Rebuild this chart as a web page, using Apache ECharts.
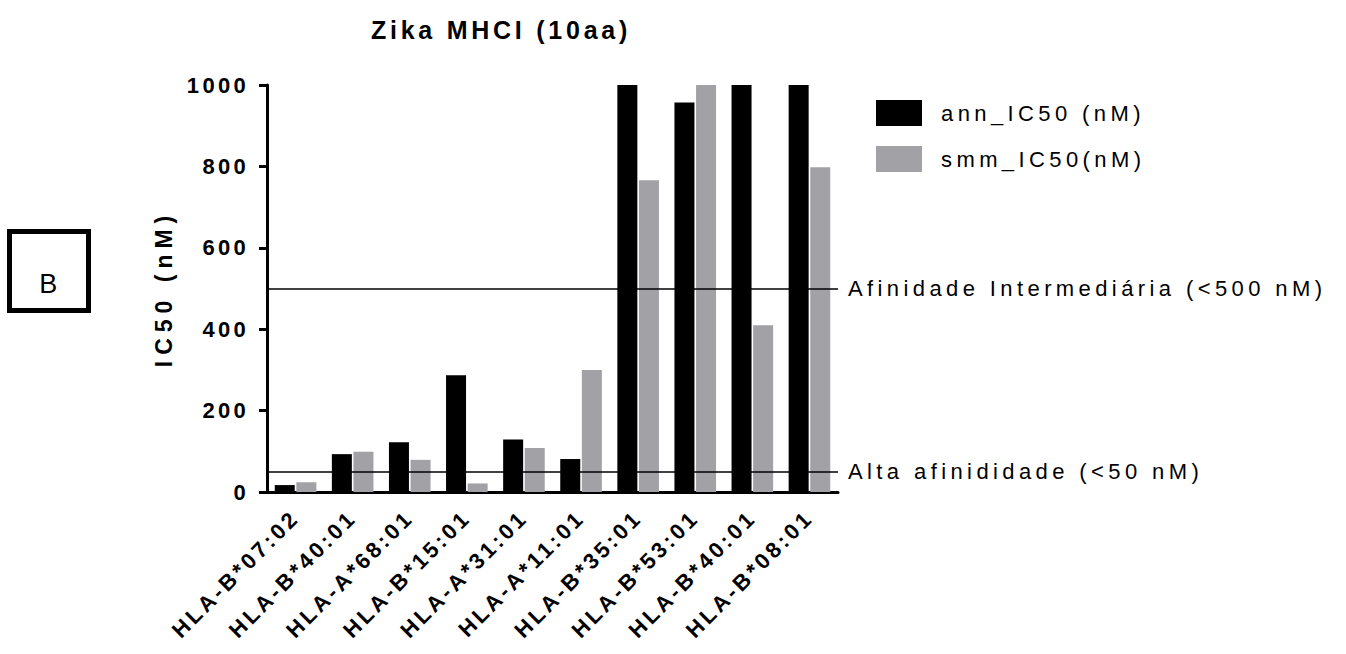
<!DOCTYPE html>
<html>
<head>
<meta charset="utf-8">
<script src="https://cdn.jsdelivr.net/npm/echarts@6/dist/echarts.min.js"></script>
<style>
html,body{margin:0;padding:0;background:#fff;}
#chart{width:1346px;height:654px;}
#chart text{letter-spacing:0.2em;}
#chart text[style*="bold"]{letter-spacing:0.15em;}
</style>
</head>
<body>
<div id="chart"></div>
<script>
const categories = ['HLA-B*07:02','HLA-B*40:01','HLA-A*68:01','HLA-B*15:01','HLA-A*31:01','HLA-A*11:01','HLA-B*35:01','HLA-B*53:01','HLA-B*40:01','HLA-B*08:01'];
const annValues = [17, 93, 122, 287, 129, 81, 1000, 957, 1000, 1000];
const smmValues = [24, 99, 79, 21, 108, 300, 766, 1000, 410, 798];
const seriesNames = ['ann_IC50 (nM)', 'smm_IC50(nM)'];
const yTicks = [0, 200, 400, 600, 800, 1000];
const yAxisTitle = 'IC50 (nM)';
const thresholds = [
  {value: 500, label: 'Afinidade Intermediária (<500 nM)'},
  {value: 50, label: 'Alta afinididade (<50 nM)'}
];

const FONT = '"Liberation Sans", Arial, sans-serif';
const chart = echarts.init(document.getElementById('chart'), null, {renderer: 'svg'});
chart.setOption({
  animation: false,
  backgroundColor: '#fff',
  title: {
    text: 'Zika MHCI (10aa)',
    left: 496, top: 12, textAlign: 'center',
    textStyle: {fontFamily: FONT, fontWeight: 'bold', fontSize: 25, color: '#000'}
  },
  legend: {
    orient: 'vertical', left: 876, top: 100, padding: 0,
    itemWidth: 46, itemHeight: 26, itemGap: 20,
    icon: 'rect',
    data: seriesNames,
    textStyle: {fontFamily: FONT, fontSize: 22, color: '#000', padding: [0, 0, 0, 14]}
  },
  grid: {left: 267, right: 508, top: 85, bottom: 162, containLabel: false},
  xAxis: {
    type: 'category', data: categories,
    axisLine: {lineStyle: {color: '#000', width: 3}},
    axisTick: {alignWithLabel: true, length: 8, lineStyle: {color: '#000', width: 3}},
    axisLabel: {rotate: 45, margin: 22, interval: 0, fontFamily: FONT, fontWeight: 'bold', fontSize: 22, color: '#000'}
  },
  yAxis: {
    type: 'value', min: 0, max: 1000, interval: 200,
    name: yAxisTitle, nameLocation: 'middle', nameGap: 92,
    nameTextStyle: {fontFamily: FONT, fontWeight: 'bold', fontSize: 23, color: '#000'},
    axisLine: {show: true, lineStyle: {color: '#000', width: 3}},
    axisTick: {show: true, length: 8, lineStyle: {color: '#000', width: 3}},
    splitLine: {show: false},
    axisLabel: {margin: 18, fontFamily: FONT, fontWeight: 'bold', fontSize: 22, color: '#000',
      customValues: yTicks, formatter: v => String(v)}
  },
  series: [
    {
      name: seriesNames[0], type: 'bar', data: annValues,
      barWidth: 20, barGap: '8%',
      itemStyle: {color: '#000'},
      markLine: {
        silent: true, symbol: 'none',
        lineStyle: {color: '#000', width: 1.5, type: 'solid'},
        label: {position: 'end', distance: 10, fontFamily: FONT, fontSize: 22, color: '#000',
          formatter: p => p.name},
        data: thresholds.map(t => ({yAxis: t.value, name: t.label}))
      }
    },
    {
      name: seriesNames[1], type: 'bar', data: smmValues,
      barWidth: 20, barGap: '8%',
      itemStyle: {color: '#a2a1a6'}
    }
  ],
  graphic: [
    {type: 'rect', shape: {x: 9.5, y: 231.5, width: 79, height: 79},
      style: {fill: '#fff', stroke: '#000', lineWidth: 5}},
    {type: 'text', x: 51, y: 284,
      style: {text: 'B', fontSize: 27, fontFamily: FONT, fill: '#000',
        textAlign: 'center', textVerticalAlign: 'middle'}}
  ]
});
function spaceAxisTitle() {
  document.querySelectorAll('#chart text').forEach(t => {
    if (t.textContent === yAxisTitle) t.style.letterSpacing = '6px';
  });
}
spaceAxisTitle();
chart.on('finished', spaceAxisTitle);
</script>
</body>
</html>
